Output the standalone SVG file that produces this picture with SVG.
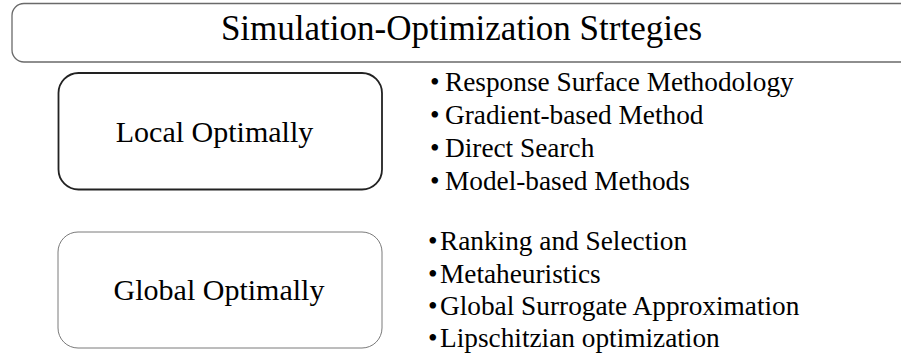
<svg xmlns="http://www.w3.org/2000/svg" width="901" height="355" viewBox="0 0 901 355">
<style>
text{font-family:"Liberation Serif","Times New Roman",serif;fill:#000}
.title{font-size:35px;text-anchor:middle}
.label{font-size:30px;text-anchor:middle}
.item{font-size:27.3px}
</style>
<rect width="901" height="355" fill="#fff"/>
<g id="banner">
<rect x="12" y="3.5" width="920" height="58.5" rx="12" fill="#fff" stroke="#6a6a6a" stroke-width="1.3"/>
<text class="title" x="461.5" y="40">Simulation-Optimization Strtegies</text>
</g>
<g id="local">
<rect x="58.5" y="73" width="323.5" height="116.5" rx="20" fill="#fff" stroke="#222" stroke-width="1.8"/>
<text class="label" x="214.5" y="142">Local Optimally</text>
</g>
<g id="local-list">
<text class="item" y="91"><tspan x="430">•</tspan><tspan x="445">Response Surface Methodology</tspan></text>
<text class="item" y="123.5"><tspan x="430">•</tspan><tspan x="445">Gradient-based Method</tspan></text>
<text class="item" y="157"><tspan x="430">•</tspan><tspan x="445">Direct Search</tspan></text>
<text class="item" y="190"><tspan x="430">•</tspan><tspan x="445">Model-based Methods</tspan></text>
</g>
<g id="global">
<rect x="58" y="232" width="324" height="116" rx="20" fill="#fff" stroke="#7a7a7a" stroke-width="1"/>
<text class="label" x="219" y="300">Global Optimally</text>
</g>
<g id="global-list">
<text class="item" y="250"><tspan x="428">•</tspan><tspan x="440">Ranking and Selection</tspan></text>
<text class="item" y="282.5"><tspan x="428">•</tspan><tspan x="440">Metaheuristics</tspan></text>
<text class="item" y="315"><tspan x="428">•</tspan><tspan x="440">Global Surrogate Approximation</tspan></text>
<text class="item" y="347"><tspan x="428">•</tspan><tspan x="440">Lipschitzian optimization</tspan></text>
</g>
<g id="connectors"></g>
</svg>
